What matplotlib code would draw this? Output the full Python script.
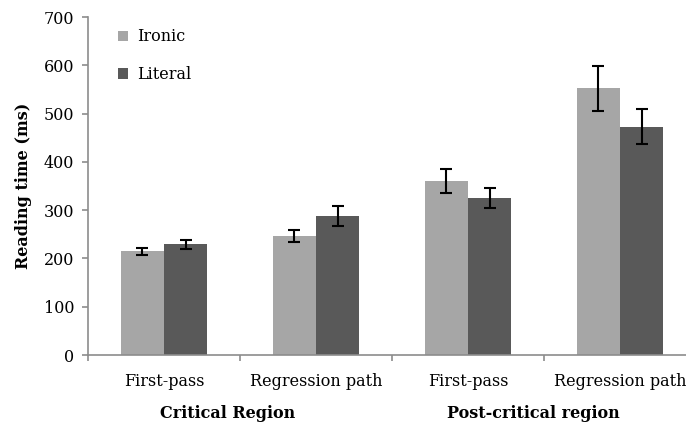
import matplotlib
matplotlib.use("Agg")
import matplotlib.pyplot as plt
import matplotlib.transforms as mtransforms
import numpy as np

categories = ["First-pass", "Regression path", "First-pass", "Regression path"]
groups = ["Critical Region", "Post-critical region"]
series_names = ["Ironic", "Literal"]
ironic = [215, 246, 360, 552]
literal = [229, 288, 325, 473]
ironic_err = [7, 13, 25, 46]
literal_err = [9, 21, 20, 36]
yticks = [0, 100, 200, 300, 400, 500, 600, 700]

plt.rcParams['font.family'] = ['DejaVu Serif']

fig = plt.figure(figsize=(6.86, 4.23), dpi=100)
ax = fig.add_axes([88/686, 68/423, 608/686, 338/423])

x = np.arange(len(categories))
w = 0.283
c_ir = "#a6a6a6"
c_li = "#595959"
ax.bar(x - w/2, ironic, w, color=c_ir, label=series_names[0], zorder=2)
ax.bar(x + w/2, literal, w, color=c_li, label=series_names[1], zorder=2)
ekw = dict(fmt="none", ecolor="black", elinewidth=1.5, capsize=4.5, capthick=1.5, zorder=3)
ax.errorbar(x - w/2, ironic, yerr=ironic_err, **ekw)
ax.errorbar(x + w/2, literal, yerr=literal_err, **ekw)

ax.set_xlim(-0.5, 3.5)
ax.set_ylim(0, 700)
ax.set_yticks(yticks)
ax.set_xticks(x)
ax.set_xticklabels(categories)
ax.set_xticks(np.arange(-0.5, 4.0, 1.0), minor=True)

spine_c = "#8c8c8c"
for s in ["top", "right"]:
    ax.spines[s].set_visible(False)
for s in ["left", "bottom"]:
    ax.spines[s].set_color(spine_c)
    ax.spines[s].set_linewidth(1.2)

ax.tick_params(axis="y", direction="out", length=4, width=1.2, color=spine_c,
               labelsize=11.5, pad=6)
ax.tick_params(axis="x", which="major", length=0, labelsize=11.5, pad=13)
ax.tick_params(axis="x", which="minor", direction="out", length=4, width=1.2, color=spine_c)

ax.set_ylabel("Reading time (ms)", fontsize=11.5, fontweight="bold", labelpad=8)

trans = mtransforms.blended_transform_factory(ax.transData, fig.transFigure)
ax.text(0.42, 1 - 413/423, groups[0], transform=trans, ha="center", va="center",
        fontsize=11.5, fontweight="bold")
ax.text(2.43, 1 - 413/423, groups[1], transform=trans, ha="center", va="center",
        fontsize=11.5, fontweight="bold")

leg = ax.legend(loc="upper left", bbox_to_anchor=(112/686, 1 - 22/423),
                bbox_transform=fig.transFigure, frameon=False, fontsize=11.5,
                handlelength=0.6, handleheight=0.6, handletextpad=0.6,
                labelspacing=1.3, borderaxespad=0)

fig.savefig("out.png", dpi=100)
